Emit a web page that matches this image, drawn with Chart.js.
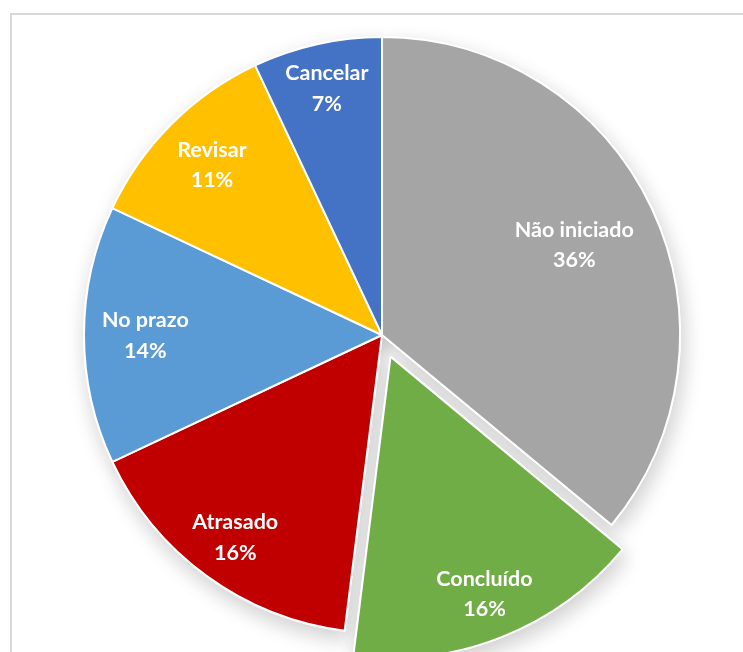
<!DOCTYPE html>
<html>
<head>
<meta charset="utf-8">
<script src="https://cdn.jsdelivr.net/npm/chart.js@4/dist/chart.umd.min.js"></script>
<style>
  html, body { margin: 0; padding: 0; background: #ffffff; overflow: hidden; }
  #wrap { position: absolute; left: 0; top: 0; width: 743px; height: 652px; }
  #frame { position: absolute; left: 10px; top: 13px; width: 900px; height: 900px;
           border-left: 2px solid #D9D9D9; border-top: 2px solid #D9D9D9; box-sizing: border-box; }
</style>
</head>
<body>
<div id="frame"></div>
<div id="wrap"><canvas id="c"></canvas></div>
<script>
// ---- data ----
const categories = ['Não iniciado', 'Concluído', 'Atrasado', 'No prazo', 'Revisar', 'Cancelar'];
const shares = [36, 16, 16, 14, 11, 7];
const percentLabels = ['36%', '16%', '16%', '14%', '11%', '7%'];

// ---- styles ----
const sliceColors = ['#A5A5A5', '#70AD47', '#C00000', '#5B9BD5', '#FFC000', '#4472C4'];
const sliceOffsets = [0, 93, 0, 0, 0, 0];
const labelDistance = [0.713, 0.844, 0.838, 0.794, 0.807, 0.848];

const shadowPlugin = {
  id: 'shadowPass',
  beforeDatasetsDraw(chart) {
    const ctx = chart.ctx;
    const meta = chart.getDatasetMeta(0);
    ctx.save();
    ctx.shadowColor = 'rgba(0,0,0,0.2)';
    ctx.shadowBlur = 22;
    ctx.shadowOffsetX = 3;
    ctx.shadowOffsetY = 8;
    meta.data.forEach(arc => arc.draw(ctx));
    ctx.restore();
  }
};

const labelPlugin = {
  id: 'sliceLabels',
  afterDatasetsDraw(chart) {
    const ctx = chart.ctx;
    const meta = chart.getDatasetMeta(0);
    ctx.save();
    ctx.fillStyle = '#ffffff';
    ctx.font = 'bold 21.5px Lato, "Open Sans", sans-serif';
    ctx.textAlign = 'center';
    ctx.textBaseline = 'alphabetic';
    meta.data.forEach((arc, i) => {
      const p = arc.getProps(['x', 'y', 'startAngle', 'endAngle', 'outerRadius', 'circumference']);
      const mid = (p.startAngle + p.endAngle) / 2;
      const off = (arc.options.offset || 0) / 4;
      const fix = 1 - Math.sin(Math.min(Math.PI, p.circumference || 0));
      const shift = off * (1 + fix);
      const d = shift + labelDistance[i] * p.outerRadius;
      const cx = p.x + Math.cos(mid) * d;
      const cy = p.y + Math.sin(mid) * d;
      ctx.fillText(categories[i], cx, cy - 8);
      ctx.fillText(percentLabels[i], cx, cy + 22.5);
    });
    ctx.restore();
  }
};

new Chart(document.getElementById('c'), {
  type: 'pie',
  data: {
    labels: categories,
    datasets: [{
      data: shares,
      backgroundColor: sliceColors,
      borderColor: '#ffffff',
      borderWidth: 2,
      offset: sliceOffsets,
      hoverOffset: 0
    }]
  },
  options: {
    responsive: true,
    maintainAspectRatio: false,
    animation: false,
    radius: 298,
    layout: { padding: { left: 21, right: 0, top: 18, bottom: 0 } },
    plugins: {
      legend: { display: false },
      tooltip: { enabled: false }
    },
    events: []
  },
  plugins: [shadowPlugin, labelPlugin]
});
</script>
</body>
</html>
